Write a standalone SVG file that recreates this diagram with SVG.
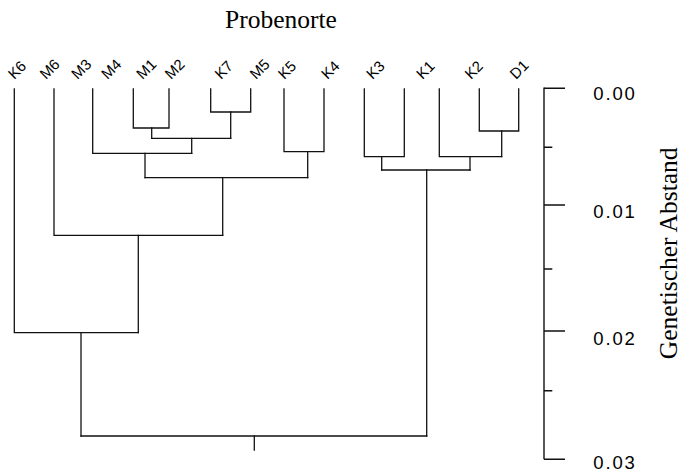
<svg xmlns="http://www.w3.org/2000/svg" width="681" height="472" viewBox="0 0 681 472">
  <style>
    .leaf { font-family: "Liberation Sans", Arial, sans-serif; font-size: 15px; fill: #000; }
    .tick { font-family: "Liberation Sans", Arial, sans-serif; font-size: 18.5px; fill: #000; }
    .title { font-family: "Liberation Serif", "Times New Roman", serif; font-size: 25.5px; fill: #000; }
    .branch { fill: none; stroke: #111; stroke-width: 1.3; stroke-linecap: square; }
    .axis { fill: none; stroke: #111; stroke-width: 1.4; }
  </style>
  <rect width="681" height="472" fill="#fff"/>

  <!-- title -->
  <text class="title" x="281" y="28.3" text-anchor="middle">Probenorte</text>

  <!-- leaf labels, slanted 45 degrees about their start point -->
  <g id="K6"><text class="leaf" x="14.3" y="80" transform="rotate(-45 14.3 80)">K6</text></g>
  <g id="M6"><text class="leaf" x="46" y="80" transform="rotate(-45 46 80)">M6</text></g>
  <g id="M3"><text class="leaf" x="77.6" y="80" transform="rotate(-45 77.6 80)">M3</text></g>
  <g id="M4"><text class="leaf" x="107.6" y="80" transform="rotate(-45 107.6 80)">M4</text></g>
  <g id="M1"><text class="leaf" x="142.6" y="80" transform="rotate(-45 142.6 80)">M1</text></g>
  <g id="M2"><text class="leaf" x="171" y="80" transform="rotate(-45 171 80)">M2</text></g>
  <g id="K7"><text class="leaf" x="221" y="80" transform="rotate(-45 221 80)">K7</text></g>
  <g id="M5"><text class="leaf" x="256" y="80" transform="rotate(-45 256 80)">M5</text></g>
  <g id="K5"><text class="leaf" x="284.3" y="80" transform="rotate(-45 284.3 80)">K5</text></g>
  <g id="K4"><text class="leaf" x="327.6" y="80" transform="rotate(-45 327.6 80)">K4</text></g>
  <g id="K3"><text class="leaf" x="372.6" y="80" transform="rotate(-45 372.6 80)">K3</text></g>
  <g id="K1"><text class="leaf" x="422.6" y="80" transform="rotate(-45 422.6 80)">K1</text></g>
  <g id="K2"><text class="leaf" x="471" y="80" transform="rotate(-45 471 80)">K2</text></g>
  <g id="D1"><text class="leaf" x="516" y="80" transform="rotate(-45 516 80)">D1</text></g>

  <!-- dendrogram branches -->
  <g id="connectors" class="branch">
    <!-- left cluster -->
    <path d="M133.3,89 V128 H169 V89"/>
    <path d="M210.7,89 V112 H250.7 V89"/>
    <path d="M151.7,128 V138.3"/>
    <path d="M230.7,112 V138.3"/>
    <path d="M151.7,138.3 H230.7"/>
    <path d="M191.7,138.3 V153.3"/>
    <path d="M92.7,89 V153.3 H191.7"/>
    <path d="M145,153.3 V177.7"/>
    <path d="M284,89 V151.7 H324 V89"/>
    <path d="M307.7,151.7 V177.7"/>
    <path d="M145,177.7 H307.7"/>
    <path d="M222.7,177.7 V235.3"/>
    <path d="M54,89 V235.3 H222.7"/>
    <path d="M138.3,235.3 V332.7"/>
    <path d="M14.3,89 V332.7 H138.3"/>
    <path d="M81,332.7 V436"/>
    <!-- right cluster -->
    <path d="M364.3,89 V156.7 H404.3 V89"/>
    <path d="M479.3,89 V131 H518.7 V89"/>
    <path d="M501.7,131 V156.7"/>
    <path d="M439.3,89 V156.7 H501.7"/>
    <path d="M381.7,156.7 V170"/>
    <path d="M470,156.7 V170"/>
    <path d="M381.7,170 H470"/>
    <path d="M426.7,170 V436"/>
    <!-- root -->
    <path d="M81,436 H426.7"/>
    <path d="M254.3,436 V450"/>
  </g>

  <!-- distance scale -->
  <g id="scale">
    <path class="axis" d="M544,87.6 V459.3"/>
    <path class="axis" d="M544,88.3 H565 M544,205 H565 M544,331 H565 M544,459.3 H565"/>
    <path class="axis" d="M544,147.3 H552.3 M544,269 H552.3 M544,390.7 H552.3"/>
    <text class="tick" x="593.3" y="100" textLength="41.5" lengthAdjust="spacing">0.00</text>
    <text class="tick" x="593.3" y="218.3" textLength="41.5" lengthAdjust="spacing">0.01</text>
    <text class="tick" x="593.3" y="345" textLength="41.5" lengthAdjust="spacing">0.02</text>
    <text class="tick" x="593.3" y="469" textLength="41.5" lengthAdjust="spacing">0.03</text>
    <text class="title" transform="translate(676.5,253.3) rotate(-90)" text-anchor="middle">Genetischer Abstand</text>
  </g>
</svg>
